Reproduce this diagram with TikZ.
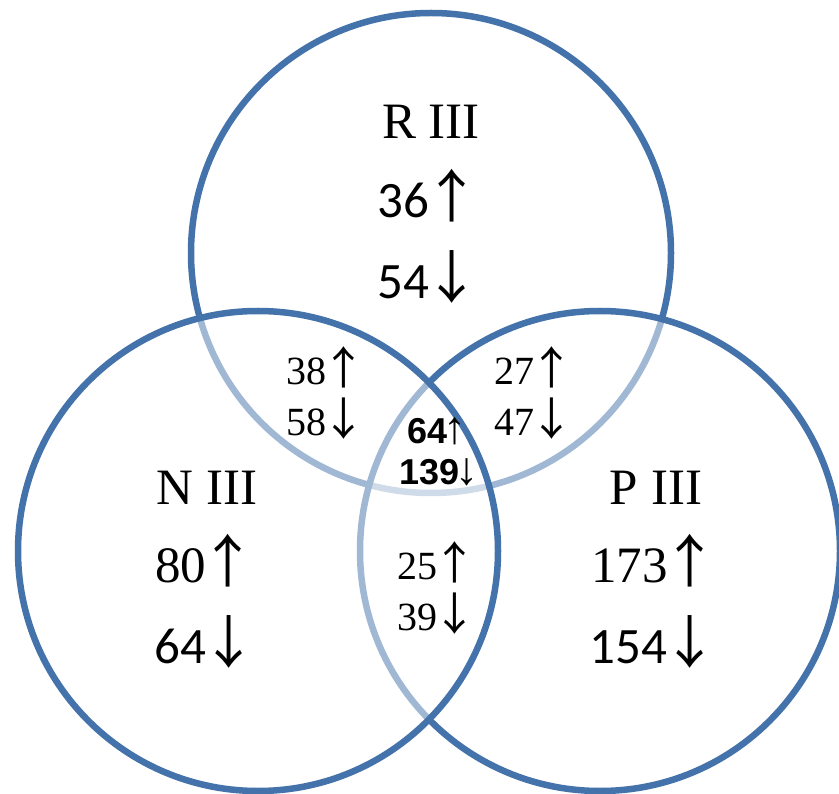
\documentclass[tikz,border=0pt]{standalone}
\usepackage{fontspec}
\setmainfont{Liberation Serif}
\newfontfamily\calib{Carlito}
\newfontfamily\arial{Liberation Sans}
\newfontfamily\arrf{Noto Sans CJK SC}
\newcommand\myup{{\kern-0.12em\scalebox{1.12}{\arrf ↑}}}
\newcommand\mydn{{\kern-0.12em\scalebox{1.12}{\arrf ↓}}}
\definecolor{vblue}{HTML}{4472AA}
\tikzset{
  vc/.style={draw=vblue, line width=6.5pt, fill=white, fill opacity=0.5},
  big/.style={anchor=base, inner sep=0pt, font=\fontsize{51}{51}\selectfont},
  bigc/.style={anchor=base, inner sep=0pt, font=\fontsize{51}{51}\calib},
  small/.style={anchor=base, inner sep=0pt, font=\fontsize{40}{40}\selectfont},
  mid/.style={anchor=base, inner sep=0pt, font=\fontsize{36}{36}\arial\bfseries},
}
\begin{document}
\begin{tikzpicture}[x=1pt,y=-1pt]
\useasboundingbox (0,0) rectangle (839,794);
\begin{scope}
\clip (0,0) rectangle (839,794);
\draw[vc] (431,253) circle (240);
\draw[vc] (600,551) circle (240);
\draw[vc] (258,551) circle (240);
\end{scope}
\node[big] (r) at (431,139) {R III};
\node[bigc] (r1) at (429,218) {36\myup};
\node[bigc] (r2) at (429,299) {54\mydn};
\node[big] (n) at (207,504) {N III};
\node[big] (n1) at (206,582) {80\myup};
\node[bigc] (n2) at (206,663) {64\mydn};
\node[big] (p) at (656,504) {P III};
\node[big] (p1) at (655,582) {173\myup};
\node[bigc] (p2) at (654,663) {154\mydn};
\node[small] (rn1) at (326,385) {38\myup};
\node[small] (rn2) at (326,436) {58\mydn};
\node[small] (rp1) at (534,385) {27\myup};
\node[small] (rp2) at (534,436) {47\mydn};
\node[mid] (c1) at (437,444) {64{\mdseries\fontsize{46}{46}\selectfont\kern-0.08em↑}};
\node[mid] (c2) at (439,485) {139{\mdseries\fontsize{46}{46}\selectfont\kern-0.08em↓}};
\node[small] (np1) at (437,579) {25\myup};
\node[small] (np2) at (437,630) {39\mydn};
\end{tikzpicture}
\end{document}
